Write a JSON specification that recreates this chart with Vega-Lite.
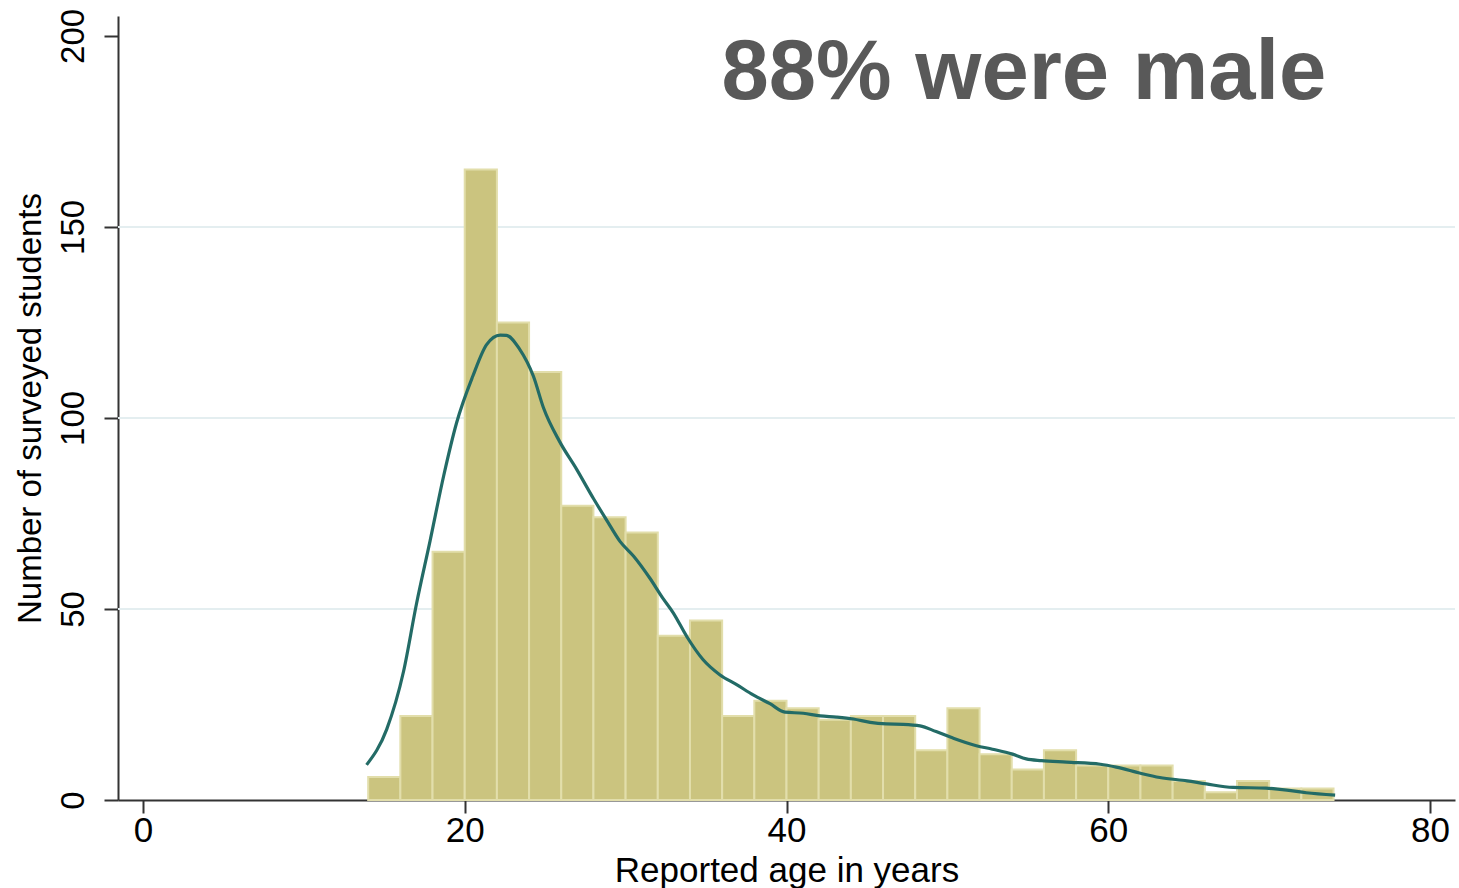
{
  "$schema": "https://vega.github.io/schema/vega-lite/v6.json",
  "autosize": {"type": "none"},
  "width": 1337,
  "height": 784,
  "padding": {"left": 118, "top": 16, "right": 4, "bottom": 88},
  "background": "white",
  "config": {
    "view": {"stroke": null},
    "font": "Liberation Sans"
  },
  "datasets": {
    "bins": [
      {"age_start": 14, "age_end": 16, "students": 6},
      {"age_start": 16, "age_end": 18, "students": 22},
      {"age_start": 18, "age_end": 20, "students": 65},
      {"age_start": 20, "age_end": 22, "students": 165},
      {"age_start": 22, "age_end": 24, "students": 125},
      {"age_start": 24, "age_end": 26, "students": 112},
      {"age_start": 26, "age_end": 28, "students": 77},
      {"age_start": 28, "age_end": 30, "students": 74},
      {"age_start": 30, "age_end": 32, "students": 70},
      {"age_start": 32, "age_end": 34, "students": 43},
      {"age_start": 34, "age_end": 36, "students": 47},
      {"age_start": 36, "age_end": 38, "students": 22},
      {"age_start": 38, "age_end": 40, "students": 26},
      {"age_start": 40, "age_end": 42, "students": 24},
      {"age_start": 42, "age_end": 44, "students": 21},
      {"age_start": 44, "age_end": 46, "students": 22},
      {"age_start": 46, "age_end": 48, "students": 22},
      {"age_start": 48, "age_end": 50, "students": 13},
      {"age_start": 50, "age_end": 52, "students": 24},
      {"age_start": 52, "age_end": 54, "students": 12},
      {"age_start": 54, "age_end": 56, "students": 8},
      {"age_start": 56, "age_end": 58, "students": 13},
      {"age_start": 58, "age_end": 60, "students": 9},
      {"age_start": 60, "age_end": 62, "students": 9},
      {"age_start": 62, "age_end": 64, "students": 9},
      {"age_start": 64, "age_end": 66, "students": 5},
      {"age_start": 66, "age_end": 68, "students": 2},
      {"age_start": 68, "age_end": 70, "students": 5},
      {"age_start": 70, "age_end": 72, "students": 3},
      {"age_start": 72, "age_end": 74, "students": 3}
    ],
    "density": [
      {"age": 13.9, "students": 9.2},
      {"age": 15.15, "students": 18.5},
      {"age": 16.2, "students": 33.7},
      {"age": 17.0, "students": 51.3},
      {"age": 17.85, "students": 67.9},
      {"age": 18.7, "students": 85.0},
      {"age": 19.5, "students": 98.8},
      {"age": 20.5, "students": 110.9},
      {"age": 21.36, "students": 119.2},
      {"age": 22.2, "students": 121.7},
      {"age": 22.6, "students": 121.6},
      {"age": 23.4, "students": 118.1},
      {"age": 24.27, "students": 110.9},
      {"age": 24.9, "students": 102.6},
      {"age": 25.9, "students": 93.8},
      {"age": 26.95, "students": 86.6},
      {"age": 28.0, "students": 78.9},
      {"age": 28.8, "students": 73.4},
      {"age": 29.65, "students": 67.7},
      {"age": 30.5, "students": 63.8},
      {"age": 31.5, "students": 58.1},
      {"age": 32.3, "students": 52.9},
      {"age": 32.96, "students": 49.0},
      {"age": 33.8, "students": 42.8},
      {"age": 34.82, "students": 36.7},
      {"age": 35.85, "students": 32.8},
      {"age": 36.9, "students": 30.2},
      {"age": 37.93, "students": 27.5},
      {"age": 38.97, "students": 25.2},
      {"age": 39.9, "students": 23.0},
      {"age": 41.04, "students": 22.7},
      {"age": 42.1, "students": 22.0},
      {"age": 43.1, "students": 21.7},
      {"age": 44.15, "students": 21.2},
      {"age": 45.2, "students": 20.3},
      {"age": 46.2, "students": 19.9},
      {"age": 47.25, "students": 19.8},
      {"age": 48.3, "students": 19.4},
      {"age": 49.3, "students": 17.9},
      {"age": 50.35, "students": 16.2},
      {"age": 51.8, "students": 14.2},
      {"age": 52.8, "students": 13.3},
      {"age": 54.05, "students": 12.0},
      {"age": 54.9, "students": 10.75},
      {"age": 55.85, "students": 10.3},
      {"age": 57.4, "students": 9.9},
      {"age": 59.5, "students": 9.35},
      {"age": 60.5, "students": 8.6},
      {"age": 62.0, "students": 7.0},
      {"age": 63.2, "students": 5.9},
      {"age": 64.9, "students": 5.0},
      {"age": 66.1, "students": 4.2},
      {"age": 67.76, "students": 3.3},
      {"age": 69.8, "students": 3.1},
      {"age": 71.1, "students": 2.6},
      {"age": 72.3, "students": 1.9},
      {"age": 74.1, "students": 1.3}
    ],
    "gridlines": [
      {"level": 50},
      {"level": 100},
      {"level": 150}
    ]
  },
  "layer": [
    {
      "data": {"name": "gridlines"},
      "mark": {"type": "rule", "color": "#e4eef0", "strokeWidth": 2},
      "encoding": {
        "y": {"field": "level", "type": "quantitative", "scale": {"domain": [0, 205.2], "nice": false}}
      }
    },
    {
      "data": {"name": "bins"},
      "mark": {"type": "bar", "fill": "#cbc47f", "stroke": "#e2deab", "strokeWidth": 2},
      "encoding": {
        "x": {
          "field": "age_start",
          "type": "quantitative",
          "scale": {"domain": [-1.55, 81.55], "nice": false, "zero": false},
          "axis": {
            "values": [0, 20, 40, 60, 80],
            "title": "Reported age in years",
            "grid": false,
            "domainColor": "#333333",
            "domainWidth": 2,
            "tickColor": "#333333",
            "tickWidth": 2,
            "tickSize": 13,
            "labelFontSize": 35,
            "labelColor": "#000000",
            "labelPadding": 0,
            "titleFontSize": 35,
            "titleFontWeight": "normal",
            "titleColor": "#000000",
            "titleBaseline": "alphabetic",
            "titleY": 81
          }
        },
        "x2": {"field": "age_end"},
        "y": {
          "field": "students",
          "type": "quantitative",
          "scale": {"domain": [0, 205.2], "nice": false},
          "axis": {
            "values": [0, 50, 100, 150, 200],
            "title": "Number of surveyed students",
            "grid": false,
            "domainColor": "#333333",
            "domainWidth": 2,
            "tickColor": "#333333",
            "tickWidth": 2,
            "tickSize": 14,
            "labelAngle": 270,
            "labelAlign": "center",
            "labelBaseline": "bottom",
            "labelFontSize": 33,
            "labelColor": "#000000",
            "labelPadding": 14,
            "titleFontSize": 33,
            "titleFontWeight": "normal",
            "titleColor": "#000000",
            "titleAngle": 270,
            "titleAlign": "center",
            "titleBaseline": "middle",
            "titleX": -88,
            "titleY": 392
          }
        },
        "y2": {"datum": 0}
      }
    },
    {
      "data": {"name": "density"},
      "mark": {"type": "line", "color": "#236b66", "strokeWidth": 3.2, "interpolate": "monotone"},
      "encoding": {
        "x": {"field": "age", "type": "quantitative"},
        "y": {"field": "students", "type": "quantitative"}
      }
    },
    {
      "data": {"values": [{}]},
      "mark": {
        "type": "text",
        "text": "88% were male",
        "font": "Liberation Sans",
        "fontWeight": "bold",
        "fontSize": 85,
        "color": "#595959",
        "align": "center",
        "baseline": "alphabetic"
      },
      "encoding": {
        "x": {"datum": 54.76, "type": "quantitative"},
        "y": {"datum": 183.5, "type": "quantitative"}
      }
    }
  ]
}
